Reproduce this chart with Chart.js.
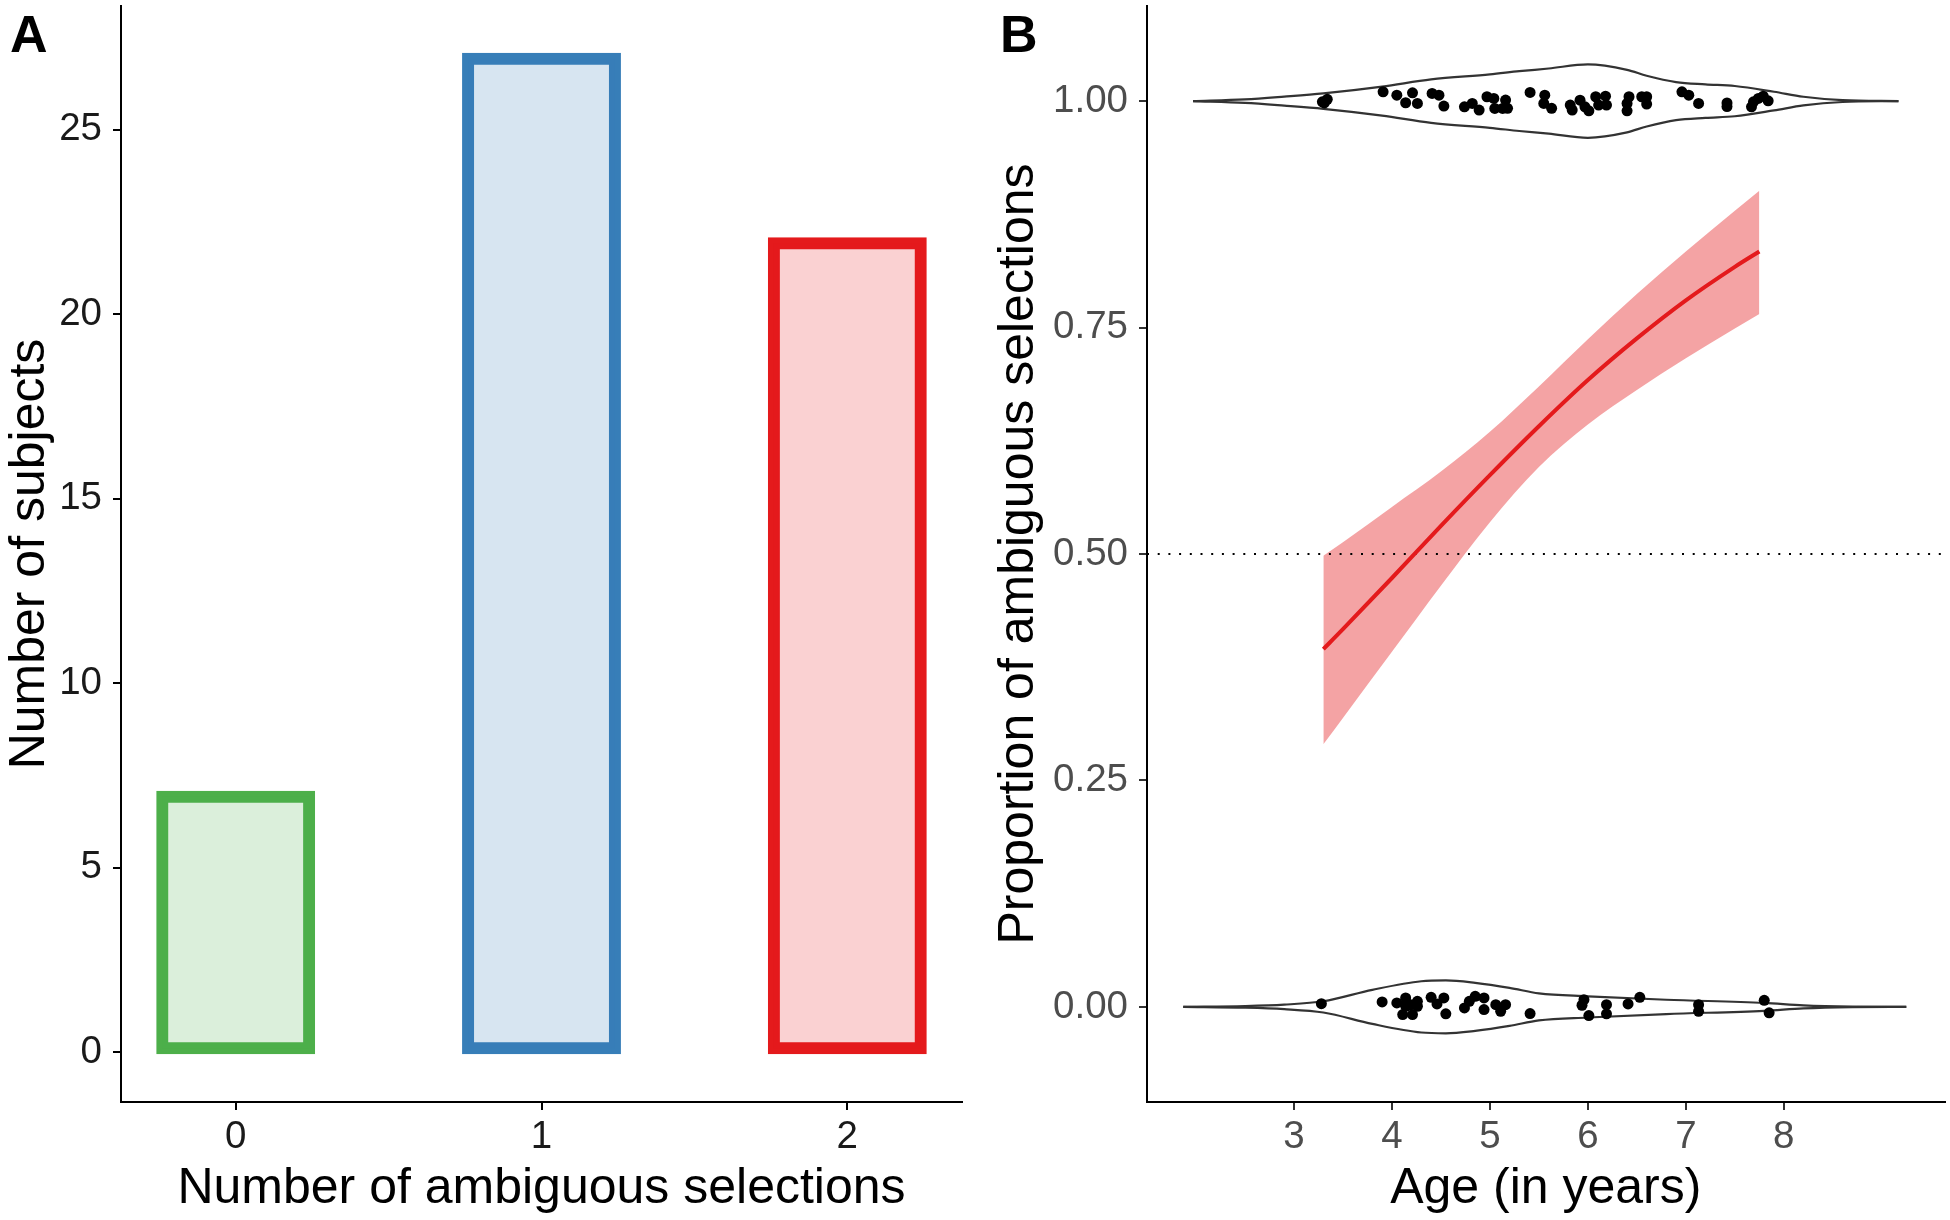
<!DOCTYPE html>
<html>
<head>
<meta charset="utf-8">
<script src="https://cdn.jsdelivr.net/npm/chart.js@4.4.0/dist/chart.umd.min.js"></script>
<style>
  html, body { margin: 0; padding: 0; background: #fff; }
  #wrap { position: relative; width: 1950px; height: 1220px; overflow: hidden; }
  canvas { position: absolute; top: 0; }
  #cA { left: 0; }
  #cB { left: 975px; }
  .tag { position: absolute; font-family: 'Liberation Sans', Arial, sans-serif; font-weight: bold; font-size: 52px; line-height: 1; color: #000; }
</style>
</head>
<body>
<div id="wrap">
  <canvas id="cA" width="975" height="1220"></canvas>
  <canvas id="cB" width="975" height="1220"></canvas>
  <div class="tag" style="left:10px;top:8px">A</div>
  <div class="tag" style="left:1000px;top:8px">B</div>
</div>
<script>
// panel A: number of subjects by number of ambiguous selections
const selections = [0, 1, 2];
const subjects = [7, 27, 22];
const countTicks = [0, 5, 10, 15, 20, 25];

// panel B: axis ticks
const ageTicks = [3, 4, 5, 6, 7, 8];
const propTicks = [0, 0.25, 0.5, 0.75, 1];
const propLabels = ['0.00', '0.25', '0.50', '0.75', '1.00'];
const chance = 0.5;

// logistic fit with ribbon
const fitAge = [3.3, 3.5, 4.0, 4.5, 5.0, 5.5, 6.0, 6.5, 7.0, 7.5, 7.75];
const fitProp = [0.395, 0.417, 0.4735, 0.531, 0.587, 0.641, 0.692, 0.738, 0.78, 0.817, 0.834];
const fitUpper = [0.498, 0.513, 0.552, 0.591, 0.635, 0.685, 0.737, 0.787, 0.834, 0.879, 0.901];
const fitLower = [0.29, 0.319, 0.392, 0.465, 0.535, 0.596, 0.643, 0.681, 0.716, 0.749, 0.765];

// violin outlines (half width, in proportion units)
const vioOneAge = [1.97, 2.5, 2.9, 3.3, 3.9, 4.4, 5.0, 5.3, 5.6, 6.0, 6.4, 6.6, 6.9, 7.2, 7.5, 7.9, 8.2, 8.6, 9.17];
const vioOneHalf = [0, 0.002, 0.005, 0.0085, 0.016, 0.024, 0.0295, 0.033, 0.036, 0.0405, 0.0345, 0.028, 0.021, 0.0185, 0.0167, 0.0103, 0.0048, 0.001, 0];
const vioZeroAge = [1.87, 2.5, 2.9, 3.3, 3.8, 4.3, 4.55, 4.85, 5.2, 5.5, 6.0, 6.8, 7.8, 8.2, 8.7, 9.25];
const vioZeroHalf = [0, 0.0009, 0.0025, 0.0062, 0.0188, 0.0283, 0.0292, 0.0265, 0.021, 0.0149, 0.0117, 0.0079, 0.0044, 0.0017, 0.0003, 0];

// jittered trials
const oneAge = [3.29, 3.34, 3.31, 3.91, 4.05, 4.21, 4.14, 4.26, 4.41, 4.48, 4.53, 4.74, 4.82, 4.89, 4.97, 5.04, 5.05, 5.13, 5.16, 5.18,
  5.41, 5.56, 5.55, 5.63, 5.82, 5.84, 5.92, 5.97, 6.01, 6.08, 6.11, 6.18, 6.19, 6.40, 6.40, 6.42, 6.55, 6.60, 6.60,
  6.96, 7.03, 7.13, 7.42, 7.42, 7.67, 7.69, 7.74, 7.79, 7.84];
const oneVal = [0.9992, 1.002, 0.998, 1.0103, 1.0066, 1.0092, 0.9982, 0.9974, 1.0085, 1.0066, 0.9945, 0.9937, 0.9974, 0.9901, 1.0048, 1.003, 0.9919, 0.9919, 1.0011, 0.992,
  1.0096, 1.0066, 0.9974, 0.992, 0.9956, 0.9901, 1.001, 0.9937, 0.9893, 1.0048, 0.9956, 1.0055, 0.9956, 0.9974, 0.9893, 1.0048, 1.0048, 0.9967, 1.0048,
  1.0103, 1.0066, 0.9974, 0.998, 0.994, 0.9937, 0.9992, 1.003, 1.0055, 1.0003];
const zeroAge = [3.28, 3.90, 4.05, 4.14, 4.14, 4.19, 4.26, 4.26, 4.11, 4.21, 4.40, 4.46, 4.53, 4.55, 4.74, 4.79, 4.85, 4.94, 4.94, 5.06,
  5.11, 5.16, 5.41, 5.96, 5.94, 6.01, 6.19, 6.19, 6.41, 6.53, 7.13, 7.13, 7.80, 7.85];
const zeroVal = [0.0036, 0.0055, 0.0044, 0.0099, 0.0007, 0.0025, 0.0062, 0.0007, -0.0085, -0.0085, 0.0106, 0.0033, 0.0099, -0.0077, -0.0011, 0.0062, 0.0117, 0.0099, -0.003, 0.0025,
  -0.0049, 0.0025, -0.0074, 0.008, 0.0018, -0.0096, 0.0025, -0.0077, 0.0033, 0.0106, 0.0025, -0.0049, 0.0073, -0.0066];

const xMinB = 1.5, xMaxB = 9.64;

Chart.defaults.font.family = "'Liberation Sans', Arial, sans-serif";

function pts(xs, ys) {
  return xs.map((x, i) => ({ x: x, y: ys[i] }));
}

function fixedAxis(size, horizontal) {
  return function(scale) {
    if (horizontal) scale.height = size; else scale.width = size;
    scale.paddingTop = 0; scale.paddingBottom = 0;
    scale.paddingLeft = 0; scale.paddingRight = 0;
  };
}

function axisStyle(color) {
  return {
    grid: { display: true, drawOnChartArea: false, drawTicks: true, tickLength: 8, color: color, lineWidth: 2, offset: false },
    border: { display: true, color: '#000', width: 2 }
  };
}

new Chart(document.getElementById('cA'), {
  type: 'bar',
  data: {
    datasets: [{
      data: pts(selections, subjects),
      backgroundColor: ['rgba(77,175,74,0.2)', 'rgba(55,126,184,0.2)', 'rgba(228,26,28,0.2)'],
      borderColor: ['#4DAF4A', '#377EB8', '#E41A1C'],
      borderWidth: 6,
      borderSkipped: false,
      inflateAmount: 3,
      barPercentage: 0.5,
      categoryPercentage: 1
    }]
  },
  options: {
    responsive: false,
    animation: false,
    layout: { padding: { top: 6, right: 13, left: 0, bottom: 0 } },
    plugins: { legend: { display: false }, tooltip: { enabled: false } },
    scales: {
      x: Object.assign(axisStyle('#000'), {
        type: 'linear', min: -0.375, max: 2.375, offset: false,
        afterBuildTicks: s => { s.ticks = selections.map(v => ({ value: v })); },
        afterFit: fixedAxis(118, true),
        ticks: { autoSkip: false, padding: 4, color: '#1a1a1a', font: { size: 38.5 } },
        title: { display: true, text: 'Number of ambiguous selections', color: '#000', font: { size: 50 }, padding: { top: 0, bottom: 1 } }
      }),
      y: Object.assign(axisStyle('#000'), {
        min: -1.35, max: 28.35,
        afterBuildTicks: s => { s.ticks = countTicks.map(v => ({ value: v })); },
        afterFit: fixedAxis(121, false),
        ticks: { autoSkip: false, padding: 11, color: '#1a1a1a', font: { size: 38.5 } },
        title: { display: true, text: 'Number of subjects', color: '#000', font: { size: 50 }, padding: { top: 0, bottom: 0 } }
      })
    }
  }
});

const thin = { pointRadius: 0, fill: false, cubicInterpolationMode: 'monotone' };

new Chart(document.getElementById('cB'), {
  type: 'line',
  data: {
    datasets: [
      Object.assign({ data: pts(fitAge, fitUpper), borderWidth: 0, order: 6 }, thin),
      Object.assign({}, thin, { data: pts(fitAge, fitLower), borderWidth: 0, fill: '-1', backgroundColor: 'rgba(228,26,28,0.4)', order: 5 }),
      { data: [{ x: xMinB, y: chance }, { x: xMaxB, y: chance }], borderColor: '#000', borderWidth: 2, borderDash: [2, 8.7], pointRadius: 0, fill: false, order: 4 },
      Object.assign({ data: pts(fitAge, fitProp), borderColor: '#E41A1C', borderWidth: 4, order: 3 }, thin),
      Object.assign({ data: pts(vioOneAge, vioOneHalf.map(h => 1 + h)), borderColor: '#333', borderWidth: 2.2, order: 2 }, thin),
      Object.assign({ data: pts(vioOneAge, vioOneHalf.map(h => 1 - h)), borderColor: '#333', borderWidth: 2.2, order: 2 }, thin),
      Object.assign({ data: pts(vioZeroAge, vioZeroHalf.map(h => h)), borderColor: '#333', borderWidth: 2.2, order: 2 }, thin),
      Object.assign({ data: pts(vioZeroAge, vioZeroHalf.map(h => -h)), borderColor: '#333', borderWidth: 2.2, order: 2 }, thin),
      { data: pts(oneAge, oneVal), showLine: false, pointRadius: 5.5, pointBackgroundColor: '#000', pointBorderWidth: 0, order: 1 },
      { data: pts(zeroAge, zeroVal), showLine: false, pointRadius: 5.5, pointBackgroundColor: '#000', pointBorderWidth: 0, order: 1 }
    ]
  },
  options: {
    responsive: false,
    animation: false,
    layout: { padding: { top: 6, right: 3, left: 0, bottom: 0 } },
    plugins: { legend: { display: false }, tooltip: { enabled: false } },
    scales: {
      x: Object.assign(axisStyle('#333'), {
        type: 'linear', min: xMinB, max: xMaxB,
        afterBuildTicks: s => { s.ticks = ageTicks.map(v => ({ value: v })); },
        afterFit: fixedAxis(118, true),
        ticks: { autoSkip: false, padding: 4, color: '#4d4d4d', font: { size: 38.5 } },
        title: { display: true, text: 'Age (in years)', color: '#000', font: { size: 50 }, padding: { top: 0, bottom: 1 } }
      }),
      y: Object.assign(axisStyle('#333'), {
        min: -0.105, max: 1.105,
        afterBuildTicks: s => { s.ticks = propTicks.map(v => ({ value: v })); },
        afterFit: fixedAxis(172, false),
        ticks: { autoSkip: false, padding: 11, color: '#4d4d4d', font: { size: 38.5 }, callback: (v, i) => propLabels[i] },
        title: { display: true, text: 'Proportion of ambiguous selections', color: '#000', font: { size: 50 }, padding: { top: 14, bottom: 0 } }
      })
    }
  }
});
</script>
</body>
</html>
